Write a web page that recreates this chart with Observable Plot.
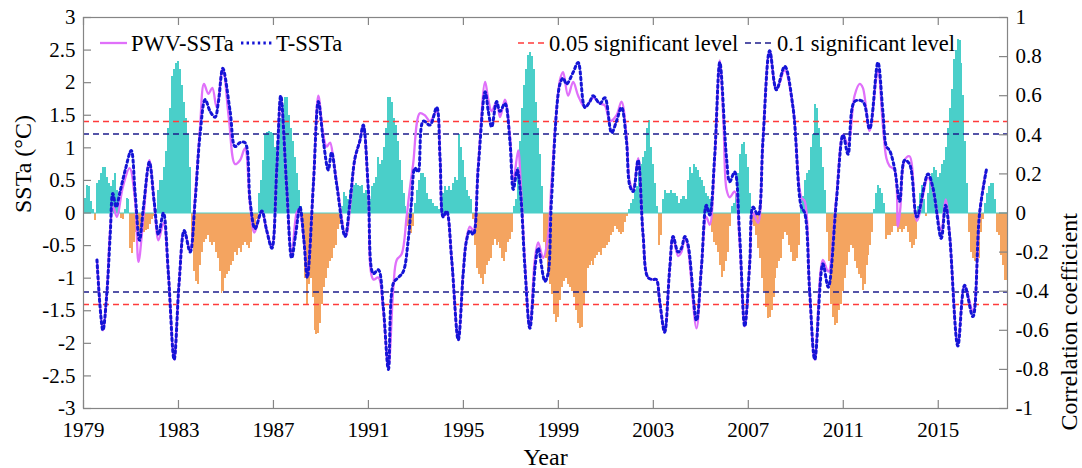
<!DOCTYPE html>
<html><head><meta charset="utf-8">
<script src="https://cdn.jsdelivr.net/npm/d3@7"></script>
<script src="https://cdn.jsdelivr.net/npm/@observablehq/plot@0.6"></script>
<style>
body{margin:0;background:#fff;}
#wrap{position:relative;width:1082px;height:468px;font-family:"Liberation Serif","Times New Roman",serif;}
#wrap svg{position:absolute;left:0;top:0;}
</style></head><body><div id="wrap"></div>
<script>
// ---------------- DATA ----------------
// Monthly SSTa (°C), Jan 1979 .. Dec 2017
const ssta1979to1988 = [
 -0.05,0.22,0.42,0.4,0.17,0.05,-0.12,0.45,0.5,0.6,0.7,0.7,
 0.55,0.45,0.4,0.5,0.6,0.35,0.16,-0.08,-0.1,0.05,0.22,0.2,
 -0.55,-0.62,-0.45,-0.3,-0.27,-0.3,-0.25,-0.3,-0.27,-0.25,-0.17,-0.1,
 -0.05,0.05,0.35,0.5,0.5,0.7,0.95,1.3,1.6,2.1,2.2,2.3,
 2.32,2.2,1.95,1.7,1.45,1.2,0.7,-0.5,-0.9,-1.05,-1.1,-0.8,
 -0.6,-0.45,-0.4,-0.35,-0.45,-0.5,-0.45,-0.6,-0.7,-0.9,-1.24,-1.2,
 -1.0,-0.95,-0.9,-0.8,-0.75,-0.6,-0.65,-0.55,-0.6,-0.5,-0.45,-0.5,
 -0.55,-0.45,-0.25,-0.2,-0.1,0.3,0.5,0.8,1.2,1.24,1.25,1.24,
 1.22,1.0,1.1,1.3,1.45,1.65,1.77,1.78,1.5,1.3,1.1,0.85,
 0.6,0.35,0.1,-0.35,-1.0,-1.42,-1.1,-1.0,-1.3,-1.8,-1.86,-1.85
];
const ssta1989to1998 = [
 -1.7,-1.4,-1.15,-1.0,-0.85,-0.75,-0.7,-0.55,-0.5,-0.25,-0.18,0.1,
 0.32,0.25,0.2,0.35,0.4,0.42,0.45,0.42,0.4,0.42,0.3,0.35,
 0.3,0.2,0.4,0.45,0.55,0.85,0.75,0.8,1.0,1.3,1.77,1.78,
 1.7,1.45,1.35,1.1,0.8,0.5,0.3,0.1,-0.2,-0.3,-0.32,-0.2,
 0.15,0.35,0.5,0.6,0.6,0.55,0.3,0.2,0.2,0.15,0.1,0.1,
 0.05,0.1,0.3,0.4,0.35,0.4,0.35,0.45,0.55,0.5,1.2,1.0,
 0.8,0.55,0.35,0.25,0.2,-0.1,-0.5,-0.85,-0.95,-1.0,-1.09,-0.95,
 -0.8,-0.75,-0.7,-0.5,-0.4,-0.5,-0.45,-0.55,-0.7,-0.75,-0.6,-0.45,
 -0.4,-0.3,0.1,0.2,0.7,1.1,1.6,1.95,2.2,2.42,2.46,2.4,
 2.2,1.7,1.3,0.9,0.4,-0.45,-0.7,-0.95,-1.1,-1.25,-1.55,-1.68
];
const ssta1999to2008 = [
 -1.6,-1.35,-1.15,-1.05,-1.0,-1.1,-1.15,-1.2,-1.3,-1.5,-1.7,-1.78,
 -1.75,-1.4,-1.2,-0.85,-0.8,-0.75,-0.8,-0.7,-0.65,-0.6,-0.65,-0.55,
 -0.55,-0.5,-0.45,-0.35,-0.3,-0.2,-0.25,-0.3,-0.33,-0.3,-0.15,-0.05,
 0.05,0.15,0.2,0.35,0.4,0.6,0.75,0.85,0.95,1.3,1.42,1.0,
 0.75,0.45,0.1,-0.5,-0.35,0.2,0.35,0.3,0.3,0.35,0.3,0.3,
 0.25,0.15,0.2,0.25,0.25,0.2,0.5,0.7,0.6,0.75,0.7,0.65,
 0.55,0.5,0.4,0.3,0.25,0.2,-0.3,-0.45,-0.5,-0.6,-0.8,-0.99,
 -0.9,-0.75,-0.6,-0.2,0.1,0.15,0.3,0.6,0.9,1.05,1.08,0.9,
 0.7,0.3,-0.15,-0.2,-0.35,-0.55,-0.7,-1.0,-1.2,-1.45,-1.62,-1.6,
 -1.5,-1.3,-1.0,-0.85,-0.75,-0.7,-0.4,-0.3,-0.35,-0.5,-0.6,-0.75
];
const ssta2009to2017 = [
 -0.75,-0.7,-0.5,0.05,0.25,0.5,0.6,0.65,1.0,1.2,1.67,1.6,
 1.3,1.0,0.7,0.35,-0.3,-0.75,-1.4,-1.6,-1.73,-1.7,-1.5,-1.4,
 -1.2,-1.0,-0.8,-0.6,-0.5,-0.55,-0.75,-0.85,-0.95,-1.0,-1.19,-1.1,
 -0.8,-0.65,-0.5,-0.3,0.05,0.3,0.42,0.38,0.3,0.15,-0.4,-0.35,
 -0.35,-0.3,-0.2,-0.2,-0.3,-0.25,-0.3,-0.25,-0.2,-0.3,-0.45,-0.55,
 -0.5,-0.4,0.1,0.3,0.42,0.2,-0.05,0.3,0.5,0.6,0.7,0.65,
 0.55,0.6,0.75,0.8,1.0,1.3,1.6,1.9,2.35,2.5,2.67,2.65,
 2.3,1.8,1.1,0.45,-0.3,-0.6,-0.7,-0.75,-0.78,-0.7,-0.3,-0.1,
 0.15,0.3,0.4,0.45,0.45,0.2,-0.3,-0.35,-0.65,-0.8,-1.04,-1.04
];

// Correlation curves: [month index since Jan 1979, correlation coefficient]
const pwvSSTa = [
 [6.8,-0.24],[9.8,-0.60],[11.8,-0.41],[13.5,-0.08],[15,0.03],[16.9,-0.02],[19.8,0.13],[23.3,0.23],[26.1,0.06],[27.8,-0.25],
 [30.3,-0.02],[33.3,0.27],[35.7,0.05],[37.9,-0.14],[40.4,-0.05],[42.9,-0.31],[45.8,-0.75],[48.3,-0.36],[50.9,-0.09],[53.9,-0.19],
 [56.4,0.08],[58.9,0.44],[60.9,0.66],[63.1,0.61],[65.1,0.64],[67.3,0.54],[70.4,0.74],[73.5,0.48],[76.6,0.25],[79.1,0.27],
 [81.6,0.33],[84.2,0.04],[86.4,-0.10],[90.1,0.01],[92.6,-0.09],[95.2,-0.17],[97.7,0.23],[99.7,0.59],[102.7,0.13],[105.2,-0.21],
 [107.7,0.0],[108.9,0.02],[111.4,-0.14],[113.1,-0.31],[116.2,0.15],[118.7,0.60],[121.2,0.40],[122.9,0.34],[124.6,0.36],[126.2,0.28],
 [128.5,0.12],[132.6,-0.12],[135,0.06],[137.2,0.28],[139.7,0.37],[141.4,0.45],[143.9,0.12],[146.5,-0.34],[149,-0.33],[151.5,-0.50],
 [154.1,-0.79],[156.6,-0.38],[158.3,-0.24],[160.8,-0.21],[163.3,-0.02],[165,0.13],[166.6,0.25],[170,0.51],[172.5,0.50],[175.1,0.47],
 [178.5,0.52],[180.2,0.28],[181.8,-0.02],[183.5,0.0],[186.1,-0.24],[189.4,-0.65],[191.9,-0.30],[193.6,-0.13],[195.3,-0.07],[197,-0.09],
 [199.5,0.25],[203,0.67],[204.6,0.58],[206.3,0.52],[208.8,0.57],[210.5,0.49],[213,0.58],[215.5,0.40],[217.2,0.16],[219.7,0.32],
 [221,0.15],[223.1,-0.25],[225.6,-0.59],[228,-0.25],[229.8,-0.15],[232.3,-0.23],[234.8,-0.12],[236.5,0.15],[240.8,0.68],[242.4,0.72],
 [244.9,0.60],[247.5,0.67],[250,0.60],[253.4,0.54],[255.9,0.57],[257.6,0.59],[261,0.56],[263.5,0.55],[266.1,0.47],[269.4,0.50],
 [271.9,0.57],[274.4,0.40],[276.1,0.16],[277.8,0.12],[280.3,0.28],[282.8,-0.11],[285.3,-0.33],[287.9,-0.34],[289.5,-0.34],[291.2,-0.45],
 [293.7,-0.61],[296.3,-0.28],[298,-0.12],[300.5,-0.22],[302.2,-0.20],[303.9,-0.12],[305.5,-0.18],[309.8,-0.59],[312.3,-0.28],[314.8,-0.02],
 [316.5,-0.06],[319,0.27],[321.6,0.78],[323.5,0.45],[325,0.12],[326.6,0.08],[329.1,0.11],[331.6,-0.15],[334.2,-0.58],[336.7,-0.26],
 [338.4,0.0],[340.9,-0.05],[343.4,0.37],[346.8,0.83],[350.2,0.63],[354.4,0.73],[358.6,0.54],[362.8,0.08],[364.5,0.06],[367,-0.40],
 [369.6,-0.75],[373.7,-0.24],[376.4,-0.30],[380.5,0.08],[383.9,0.40],[386.4,0.35],[389.7,0.60],[392.3,0.66],[393.9,0.64],[397.3,0.42],
 [401.5,0.73],[404,0.45],[405.8,0.28],[407.4,0.24],[409.9,0.22],[411.6,-0.07],[412.8,0.02],[415,0.27],[417.5,0.29],[421.2,-0.04],
 [426.8,0.18],[429.3,0.12],[433.5,-0.09],[435.7,0.07],[437.7,-0.10],[441.9,-0.67],[445.3,-0.37],[449.5,-0.50],[452.9,0.0],[456,0.21]
];
const tSSTa = [
 [6.8,-0.24],[9.8,-0.60],[11.8,-0.41],[13.5,-0.11],[14.8,0.10],[16.5,0.03],[18.5,0.11],[21.1,0.22],[24.1,0.32],[26.1,0.10],
 [28.3,-0.14],[30.3,0.03],[33.3,0.26],[35.7,0.06],[37.9,-0.11],[40.4,0.0],[42.9,-0.31],[45.8,-0.75],[48.3,-0.36],[50.9,-0.09],
 [53.9,-0.20],[56.4,0.06],[58.9,0.40],[61.5,0.58],[64,0.52],[66.5,0.49],[68.2,0.57],[70.4,0.74],[74.1,0.52],[76.6,0.34],
 [79.1,0.36],[81.6,0.36],[84.2,0.06],[86.7,-0.08],[90.1,0.01],[92.6,-0.09],[95.2,-0.18],[97.7,0.23],[99.7,0.60],[102.7,0.13],
 [105.2,-0.23],[107.2,-0.11],[109.4,0.03],[111.4,-0.14],[113.1,-0.33],[116.2,0.15],[118.7,0.57],[121.2,0.37],[123.7,0.22],[125.4,0.31],
 [127.9,0.15],[132.2,-0.12],[134.7,0.06],[137.2,0.28],[139.7,0.37],[141.4,0.45],[143.9,0.13],[146.5,-0.31],[149,-0.29],[151.5,-0.48],
 [154.1,-0.80],[156.6,-0.36],[159.1,-0.33],[161.6,-0.30],[164.1,-0.14],[165.8,0.06],[167.5,0.23],[169.1,0.21],[171.7,0.47],[175.1,0.45],
 [178.5,0.54],[180.2,0.28],[181.8,-0.02],[183.5,0.01],[186.1,-0.24],[189.4,-0.65],[191.9,-0.31],[193.6,-0.14],[195.3,-0.09],[197,-0.11],
 [199.5,0.23],[203,0.62],[204.6,0.52],[206.3,0.44],[208.8,0.57],[210.5,0.52],[213,0.56],[215.5,0.37],[217.2,0.12],[219.2,0.22],
 [220.9,0.10],[223.1,-0.28],[225.6,-0.59],[228.5,-0.25],[229.8,-0.18],[233.2,-0.35],[234.8,-0.31],[236.5,0.06],[240.8,0.66],[242.4,0.69],
 [244.1,0.66],[247.5,0.72],[250,0.77],[253.4,0.54],[255.9,0.57],[257.6,0.60],[261,0.56],[263.5,0.59],[266.9,0.41],[269.4,0.47],
 [271.9,0.54],[274.4,0.37],[276.1,0.14],[277.8,0.11],[280.3,0.27],[282.8,-0.11],[285.3,-0.33],[287.9,-0.34],[289.5,-0.34],[291.2,-0.45],
 [293.7,-0.61],[296.3,-0.28],[298,-0.12],[300.5,-0.20],[302.2,-0.18],[303.9,-0.12],[305.5,-0.16],[309.8,-0.55],[312.3,-0.28],[314.8,0.04],
 [316.5,-0.01],[319,0.29],[321.6,0.77],[325,0.28],[326.6,0.16],[329.1,0.21],[331.6,-0.11],[334.2,-0.58],[336.7,-0.26],[338.4,0.03],
 [340.9,-0.01],[343.4,0.37],[346.8,0.83],[350.2,0.63],[354.4,0.75],[358.6,0.54],[362.8,0.03],[364.5,0.0],[367,-0.40],[369.6,-0.75],
 [373.7,-0.26],[376.4,-0.38],[380.5,0.06],[383.9,0.40],[386.4,0.30],[389.7,0.57],[393.9,0.57],[397.3,0.43],[401.5,0.77],[404,0.52],
 [405.8,0.34],[407.4,0.32],[409.9,0.23],[412.5,0.06],[415,0.27],[417.5,0.25],[421.2,-0.02],[426.8,0.20],[429.3,0.13],[433.5,-0.13],
 [435.7,0.04],[437.7,-0.11],[441.9,-0.68],[445.3,-0.37],[449.5,-0.53],[452.9,0.0],[456.5,0.23]
];

const sig005 = 0.468;   // 0.05 significant level (|r|)
const sig01 = 0.404;    // 0.1 significant level (|r|)
const yearTicks = [1979,1983,1987,1991,1995,1999,2003,2007,2011,2015];
const sstaTicks = [-3,-2.5,-2,-1.5,-1,-0.5,0,0.5,1,1.5,2,2.5,3];
const corrTicks = [-1,-0.8,-0.6,-0.4,-0.2,0,0.2,0.4,0.6,0.8,1];
const seriesNames = ["PWV-SSTa","T-SSTa"];
const levelNames = ["0.05 significant level","0.1 significant level"];

// ---------------- CHART ----------------
const W = 1082, H = 468, ML = 83, MR = 75, MT = 17, MB = 60;
const PW = W - ML - MR, PH = H - MT - MB;
const K = 3; // correlation -> SSTa axis factor (right axis -1..1 aligned with left -3..3)
const cyan = "#4acfc9", orange = "#f4a460", magenta = "#e070fa", blue = "#1414d6", red = "#ff3b3b", navy = "#1c1c8c", axisGray = "#858585";
const TL = 8;
const dotted = "2.4,3.2";

const ssta = [...ssta1979to1988, ...ssta1989to1998, ...ssta1999to2008, ...ssta2009to2017];
const bars = ssta.map((v, i) => ({m: i, v}));
const xTickM = yearTicks.map(y => (y - 1979) * 12);
const corrPos = corrTicks.map(r => r * K);

const chart = Plot.plot({
  width: W, height: H, marginLeft: ML, marginRight: MR, marginTop: MT, marginBottom: MB,
  x: {domain: [0, ssta.length - 1]},
  y: {domain: [-3, 3]},
  style: {fontFamily: '"Liberation Serif","Times New Roman",serif', fontSize: "21px", background: "transparent", color: "black"},
  marks: [
    Plot.rect(bars, {x1: d => d.m - 0.5, x2: d => d.m + 0.5, y1: d => 0, y2: d => d.v,
      fill: d => d.v >= 0 ? cyan : orange, clip: true, shapeRendering: "crispEdges"}),
    Plot.ruleY([0], {stroke: cyan, strokeWidth: 1}),
    Plot.ruleY([sig005 * K, -sig005 * K], {stroke: red, strokeWidth: 1.3, strokeDasharray: "6,4"}),
    Plot.ruleY([sig01 * K, -sig01 * K], {stroke: navy, strokeWidth: 1.3, strokeDasharray: "6,4"}),
    Plot.line(pwvSSTa, {x: d => d[0], y: d => d[1] * K, curve: "catmull-rom", stroke: magenta, strokeWidth: 2.3}),
    Plot.line(tSSTa, {x: d => d[0], y: d => d[1] * K, curve: "catmull-rom", stroke: blue, strokeWidth: 3, strokeDasharray: dotted}),
    Plot.frame({stroke: axisGray, strokeWidth: 1.2}),
    // inward ticks
    Plot.ruleX(xTickM, {stroke: axisGray, strokeWidth: 1.2, insetTop: PH - TL}),
    Plot.ruleX(xTickM, {stroke: axisGray, strokeWidth: 1.2, insetBottom: PH - TL}),
    Plot.ruleY(sstaTicks, {stroke: axisGray, strokeWidth: 1.2, insetRight: PW - TL}),
    Plot.ruleY(corrPos, {stroke: axisGray, strokeWidth: 1.2, insetLeft: PW - TL}),
    Plot.axisX(xTickM, {anchor: "bottom", tickSize: 0, tickPadding: 14, tickFormat: m => String(1979 + m / 12), label: null}),
    Plot.axisY(sstaTicks, {anchor: "left", tickSize: 0, tickPadding: 8, tickFormat: d => String(d), label: null}),
    Plot.axisY(corrPos, {anchor: "right", tickSize: 0, tickPadding: 8, tickFormat: d => String(+(d / K).toFixed(1)), label: null}),
    Plot.text(["Year"], {frameAnchor: "bottom", dy: 56, lineAnchor: "bottom", fontSize: 24}),
    Plot.text(["SSTa (°C)"], {frameAnchor: "left", dx: -60, rotate: -90, fontSize: 24}),
    Plot.text(["Correlation coefficient"], {frameAnchor: "right", dx: 62, rotate: -90, fontSize: 24})
  ]
});
document.getElementById("wrap").appendChild(chart);

// ---------------- LEGEND (overlay) ----------------
const leg = d3.select("#wrap").append("svg").attr("width", W).attr("height", H)
  .style("pointer-events", "none").style("font-family", '"Liberation Serif","Times New Roman",serif').style("font-size", "22.5px");
const items = [
  {label: seriesNames[0], x0: 100, x1: 127, tx: 131, stroke: magenta, w: 2.3, dash: null},
  {label: seriesNames[1], x0: 241, x1: 272, tx: 276, stroke: blue, w: 3, dash: dotted},
  {label: levelNames[0], x0: 518, x1: 544, tx: 549, stroke: red, w: 1.3, dash: "6,4"},
  {label: levelNames[1], x0: 745, x1: 773, tx: 777, stroke: navy, w: 1.3, dash: "6,4"}
];
for (const it of items) {
  leg.append("line").attr("x1", it.x0).attr("x2", it.x1).attr("y1", 43).attr("y2", 43)
    .attr("stroke", it.stroke).attr("stroke-width", it.w).attr("stroke-dasharray", it.dash);
  leg.append("text").attr("x", it.tx).attr("y", 51).attr("fill", "black").text(it.label);
}
</script></body></html>
